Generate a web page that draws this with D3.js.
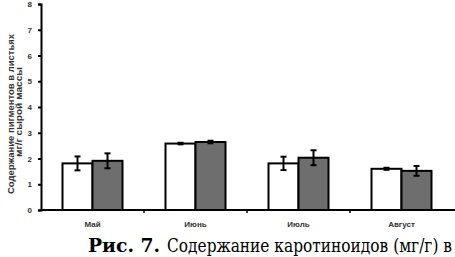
<!DOCTYPE html>
<html lang="en">
<head>
<meta charset="UTF-8">
<title>Каротиноиды</title>
<script src="https://d3js.org/d3.v7.min.js"></script>
<style>
    body { margin: 0; background: #fff; }
    svg { display: block; }
    .axis text { font-family: "Liberation Sans", Arial, sans-serif; font-size: 8px; font-weight: bold; fill: #333; }
    .axis path, .axis line { stroke: #000; stroke-width: 2px; }
</style>
</head>
<body>
<div id="chart"></div>
<script>
// data
var months = ["Май", "Июнь", "Июль", "Август"];
var series1 = [1.81, 2.58, 1.81, 1.60];
var series2 = [1.91, 2.64, 2.03, 1.52];
var err1 = [0.27, 0.03, 0.26, 0.04];
var err2 = [0.29, 0.05, 0.29, 0.19];
var yTicks = [0, 1, 2, 3, 4, 5, 6, 7, 8];

var width = 455, height = 257;
var plotLeft = 41, plotRight = 453, plotTop = 4, plotBottom = 210;

var svg = d3.select("#chart").append("svg")
    .attr("width", width)
    .attr("height", height);

var x = d3.scaleBand().domain(months).range([plotLeft, plotRight]);
var y = d3.scaleLinear().domain([0, 8]).range([plotBottom, plotTop]);
var barW = 30;

var rows = months.map(function (m, i) {
    return { month: m, vals: [series1[i], series2[i]], errs: [err1[i], err2[i]] };
});

// bars
var groups = svg.selectAll(".grp")
    .data(rows)
    .enter().append("g")
    .attr("class", "grp")
    .attr("transform", d => "translate(" + (x(d.month) + x.bandwidth() / 2 - barW) + ",0)");

groups.selectAll("rect")
    .data(d => d.vals.map((v, j) => ({ v: v, j: j })))
    .enter().append("rect")
    .attr("x", d => d.j * barW)
    .attr("y", d => y(d.v))
    .attr("width", barW)
    .attr("height", d => plotBottom - y(d.v))
    .attr("fill", d => d.j === 0 ? "#ffffff" : "#6e6e6e")
    .attr("stroke", "#000")
    .attr("stroke-width", 2);

// error bars
var eb = groups.selectAll(".err")
    .data(d => d.vals.map((v, j) => ({ v: v, e: d.errs[j], j: j })))
    .enter().append("g")
    .attr("class", "err")
    .attr("stroke", "#000")
    .attr("stroke-width", 2);

eb.append("line")
    .attr("x1", d => d.j * barW + barW / 2)
    .attr("x2", d => d.j * barW + barW / 2)
    .attr("y1", d => y(d.v + d.e))
    .attr("y2", d => y(d.v - d.e));
eb.append("line")
    .attr("x1", d => d.j * barW + barW / 2 - 3)
    .attr("x2", d => d.j * barW + barW / 2 + 3)
    .attr("y1", d => y(d.v + d.e))
    .attr("y2", d => y(d.v + d.e));
eb.append("line")
    .attr("x1", d => d.j * barW + barW / 2 - 3)
    .attr("x2", d => d.j * barW + barW / 2 + 3)
    .attr("y1", d => y(d.v - d.e))
    .attr("y2", d => y(d.v - d.e));

// axes
svg.append("g")
    .attr("class", "axis")
    .attr("transform", "translate(" + plotLeft + ",0)")
    .call(d3.axisLeft(y).tickValues(yTicks).tickFormat(d3.format("d")).tickSize(3).tickPadding(6));

var xAxis = svg.append("g")
    .attr("class", "axis")
    .attr("transform", "translate(0," + plotBottom + ")")
    .call(d3.axisBottom(x).tickSize(0).tickPadding(11));
xAxis.select(".domain").attr("d", "M" + plotLeft + ",0H" + width);

// category separators
svg.selectAll(".sep")
    .data(months.slice(1))
    .enter().append("line")
    .attr("x1", d => x(d)).attr("x2", d => x(d))
    .attr("y1", plotBottom).attr("y2", plotBottom + 3)
    .attr("stroke", "#000").attr("stroke-width", 1.5);

// y title (two lines, rotated)
var ytStyle = function (t) {
    t.attr("text-anchor", "middle")
        .attr("lengthAdjust", "spacingAndGlyphs")
        .style("font-family", "Liberation Sans, Arial, sans-serif")
        .style("font-size", "8.5px")
        .style("font-weight", "bold")
        .attr("fill", "#333");
};
svg.append("text")
    .attr("transform", "translate(14,114) rotate(-90)")
    .attr("textLength", 160)
    .call(ytStyle)
    .text("Содержание пигментов в листьях");
svg.append("text")
    .attr("transform", "translate(22,112) rotate(-90)")
    .attr("textLength", 90)
    .call(ytStyle)
    .text("мг/г сырой массы");

// caption
svg.append("text")
    .attr("x", 88).attr("y", 252)
    .attr("textLength", 72).attr("lengthAdjust", "spacingAndGlyphs")
    .style("font-family", "DejaVu Serif, serif")
    .style("font-size", "19px")
    .style("font-weight", "bold")
    .text("Рис. 7.");
svg.append("text")
    .attr("x", 167).attr("y", 252)
    .attr("textLength", 285).attr("lengthAdjust", "spacingAndGlyphs")
    .style("font-family", "DejaVu Serif, serif")
    .style("font-size", "19px")
    .text("Содержание каротиноидов (мг/г) в");
</script>
</body>
</html>
